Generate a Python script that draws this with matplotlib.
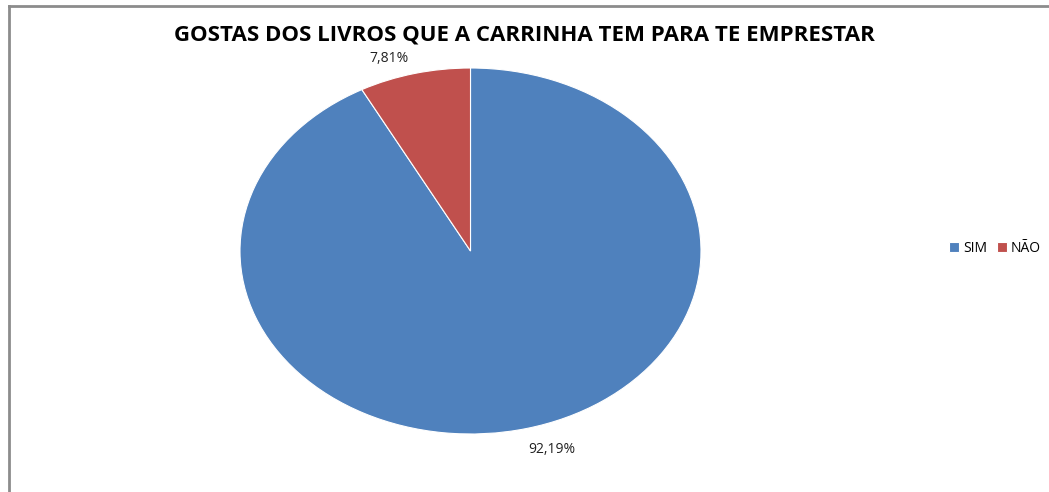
import matplotlib.pyplot as plt
from matplotlib.lines import Line2D

# Data
labels = ['SIM', 'NÃO']
values = [92.19, 7.81]
colors = ['#4F81BD', '#C0504D']

plt.rcParams['font.family'] = ['Open Sans', 'DejaVu Sans']

fig = plt.figure(figsize=(10.49, 4.92), dpi=100)

# chart frame (left and top edges visible only)
x0 = 9 / 1049
y0 = 1 - 6 / 492
fig.lines.append(Line2D([x0, x0], [0, y0], transform=fig.transFigure, color='#8c8c8c', lw=2))
fig.lines.append(Line2D([x0, 1], [y0, y0], transform=fig.transFigure, color='#8c8c8c', lw=2))

# axes sized so that the pie becomes the flattened ellipse of the original
ax = fig.add_axes([240 / 1049, 58 / 492, 461 / 1049, 366 / 492])
wedges, texts, autotexts = ax.pie(
    values, colors=colors, startangle=90, counterclock=False,
    autopct=lambda p: f'{p:.2f}%'.replace('.', ','), pctdistance=1.12,
    wedgeprops=dict(edgecolor='white', linewidth=0.8),
    textprops=dict(fontsize=10, color='#222222'))
ax.set_aspect('auto')
ax.set_xlim(-1, 1)
ax.set_ylim(-1, 1)

# nudge labels to where Excel put them
px, py = autotexts[0].get_position()
autotexts[0].set_position((px + 0.08, py))
px, py = autotexts[1].get_position()
autotexts[1].set_position((px - 0.08, py - 0.035))

fig.text(0.5, 0.928, 'GOSTAS DOS LIVROS QUE A CARRINHA TEM PARA TE EMPRESTAR',
         ha='center', va='center', fontsize=16, fontweight='bold')

fig.legend(wedges, labels, loc='center left', bbox_to_anchor=(0.893, 0.495),
           ncol=2, frameon=False, fontsize=10, handlelength=0.7, handleheight=0.7,
           handletextpad=0.3, columnspacing=0.7)

fig.savefig('out.png', dpi=100)
